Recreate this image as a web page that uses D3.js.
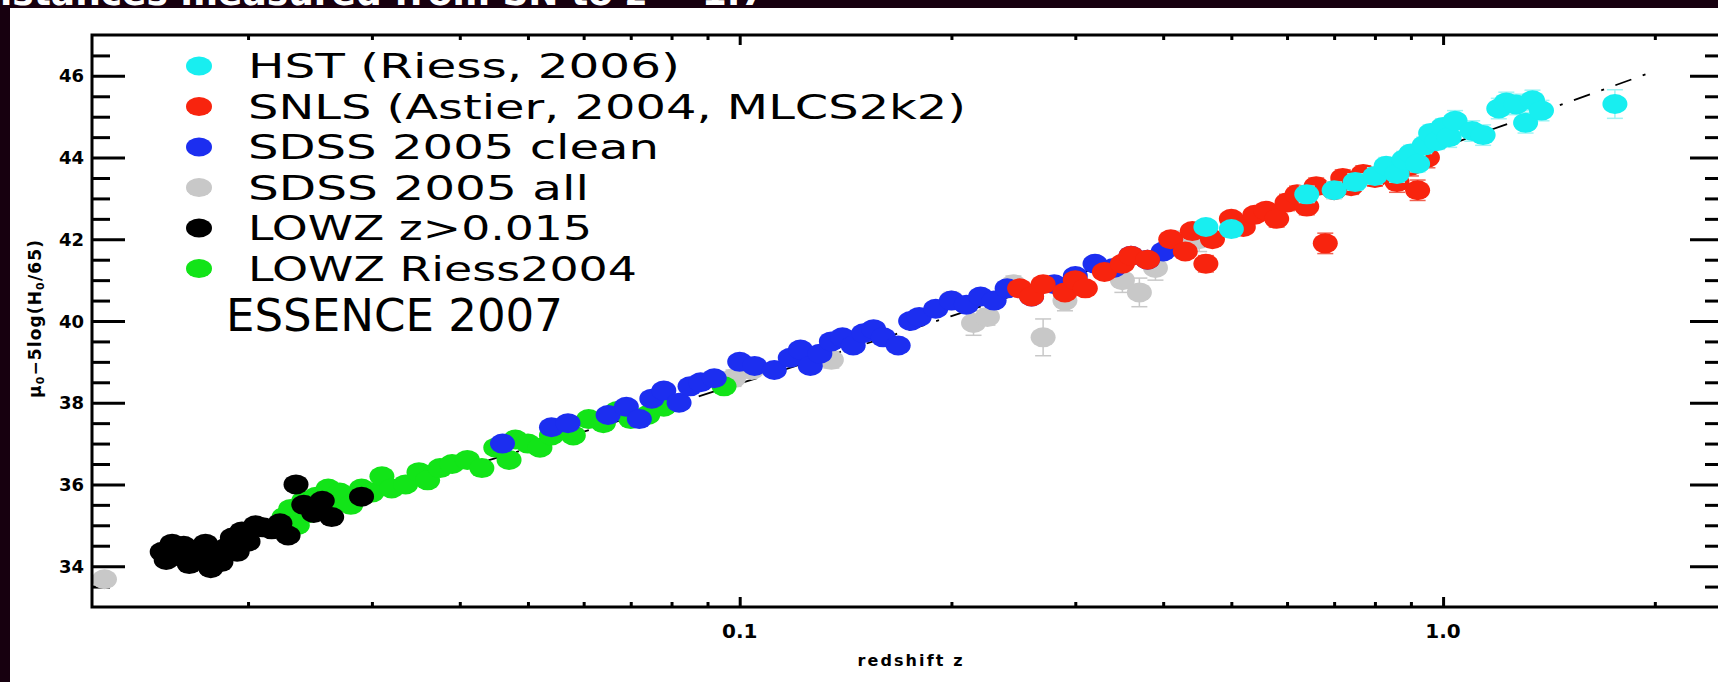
<!DOCTYPE html>
<html>
<head>
<meta charset="utf-8">
<script src="https://cdn.jsdelivr.net/npm/d3@7"></script>
<style>
  body { margin: 0; background: #fff; overflow: hidden; }
  text { font-family: "DejaVu Sans", sans-serif; }
</style>
</head>
<body>
<svg id="chart" width="1718" height="682"></svg>
<script>
// each point: [redshift z, mu - 5log(H0/65), error]
const sdssAll = [
  [0.0125, 33.68, 0.15], [0.098, 38.6, 0.2], [0.104, 38.8, 0.15], [0.135, 39.05, 0.2],
  [0.2, 40.5, 0.2], [0.215, 39.95, 0.3], [0.225, 40.1, 0.2], [0.245, 40.9, 0.2],
  [0.27, 39.6, 0.45], [0.29, 40.5, 0.25], [0.35, 41.0, 0.3], [0.37, 40.7, 0.35],
  [0.39, 41.3, 0.3], [0.42, 41.9, 0.3], [0.45, 42.0, 0.3]
];
const lowzRiess = [
  [0.0225, 35.2, 0], [0.023, 35.4, 0], [0.0235, 35.0, 0], [0.024, 35.6, 0], [0.0245, 35.3, 0],
  [0.025, 35.7, 0], [0.0255, 35.5, 0], [0.026, 35.9, 0], [0.0265, 35.6, 0], [0.027, 35.8, 0],
  [0.028, 35.5, 0], [0.029, 35.9, 0], [0.03, 35.8, 0], [0.031, 36.2, 0], [0.032, 35.9, 0],
  [0.0335, 36.0, 0], [0.035, 36.3, 0], [0.036, 36.1, 0], [0.0375, 36.4, 0], [0.039, 36.5, 0],
  [0.041, 36.6, 0], [0.043, 36.4, 0], [0.045, 36.9, 0.15], [0.047, 36.6, 0], [0.048, 37.1, 0],
  [0.05, 37.0, 0], [0.052, 36.9, 0], [0.054, 37.2, 0], [0.056, 37.4, 0], [0.058, 37.2, 0],
  [0.061, 37.6, 0], [0.064, 37.5, 0], [0.067, 37.8, 0], [0.07, 37.6, 0], [0.074, 37.7, 0],
  [0.078, 37.9, 0], [0.095, 38.4, 0]
];
const lowz = [
  [0.0151, 34.35, 0], [0.0153, 34.15, 0], [0.0156, 34.55, 0], [0.0159, 34.25, 0], [0.0162, 34.5, 0],
  [0.0165, 34.05, 0], [0.0168, 34.4, 0], [0.0171, 34.2, 0], [0.0174, 34.55, 0], [0.0177, 33.95, 0],
  [0.018, 34.3, 0], [0.0183, 34.1, 0], [0.0186, 34.45, 0], [0.019, 34.7, 0], [0.0193, 34.35, 0],
  [0.0196, 34.85, 0], [0.02, 34.6, 0], [0.0205, 35.0, 0], [0.021, 34.95, 0], [0.0216, 34.9, 0],
  [0.0222, 35.05, 0], [0.0228, 34.75, 0], [0.0234, 36.0, 0], [0.024, 35.5, 0], [0.0248, 35.3, 0],
  [0.0255, 35.6, 0], [0.0263, 35.2, 0], [0.029, 35.7, 0]
];
const sdssClean = [
  [0.046, 37.0, 0], [0.054, 37.4, 0], [0.057, 37.5, 0], [0.065, 37.7, 0], [0.069, 37.9, 0],
  [0.072, 37.6, 0], [0.075, 38.1, 0], [0.078, 38.3, 0], [0.082, 38.0, 0], [0.085, 38.4, 0],
  [0.088, 38.5, 0], [0.092, 38.6, 0], [0.1, 39.0, 0], [0.105, 38.9, 0], [0.112, 38.8, 0],
  [0.118, 39.1, 0], [0.122, 39.3, 0], [0.126, 38.9, 0], [0.13, 39.2, 0], [0.135, 39.5, 0],
  [0.14, 39.6, 0], [0.145, 39.4, 0], [0.15, 39.7, 0], [0.155, 39.8, 0], [0.16, 39.6, 0],
  [0.168, 39.4, 0], [0.175, 40.0, 0], [0.18, 40.1, 0], [0.19, 40.3, 0], [0.2, 40.5, 0],
  [0.21, 40.4, 0], [0.22, 40.6, 0], [0.23, 40.5, 0], [0.24, 40.8, 0], [0.26, 40.6, 0],
  [0.28, 40.9, 0], [0.3, 41.1, 0], [0.32, 41.4, 0], [0.34, 41.3, 0], [0.36, 41.6, 0],
  [0.38, 41.5, 0], [0.4, 41.7, 0]
];
const snls = [
  [0.25, 40.8, 0.15], [0.26, 40.6, 0.15], [0.27, 40.9, 0.15], [0.29, 40.7, 0.15], [0.3, 41.0, 0.15],
  [0.31, 40.8, 0.15], [0.33, 41.2, 0.15], [0.35, 41.4, 0.15], [0.36, 41.6, 0.15], [0.38, 41.5, 0.15],
  [0.41, 42.0, 0.15], [0.43, 41.7, 0.15], [0.44, 42.2, 0.15], [0.46, 41.4, 0.2], [0.47, 42.0, 0.15],
  [0.5, 42.5, 0.15], [0.52, 42.3, 0.15], [0.54, 42.6, 0.15], [0.56, 42.7, 0.15], [0.58, 42.5, 0.2],
  [0.6, 42.9, 0.2], [0.62, 43.1, 0.2], [0.64, 42.8, 0.2], [0.66, 43.3, 0.2], [0.68, 41.9, 0.25],
  [0.7, 43.2, 0.2], [0.72, 43.5, 0.2], [0.74, 43.3, 0.2], [0.77, 43.6, 0.2], [0.8, 43.5, 0.2],
  [0.83, 43.7, 0.2], [0.86, 43.4, 0.25], [0.9, 43.8, 0.25], [0.92, 43.2, 0.25], [0.95, 44.0, 0.25]
];
const hst = [
  [0.46, 42.3, 0.15], [0.5, 42.25, 0.15], [0.64, 43.1, 0.2], [0.7, 43.2, 0.2], [0.75, 43.4, 0.2],
  [0.8, 43.55, 0.2], [0.83, 43.8, 0.2], [0.86, 43.6, 0.2], [0.88, 43.95, 0.2], [0.9, 44.1, 0.2],
  [0.92, 43.85, 0.2], [0.94, 44.3, 0.2], [0.96, 44.6, 0.2], [0.98, 44.4, 0.2], [1.0, 44.75, 0.2],
  [1.02, 44.5, 0.25], [1.04, 44.9, 0.25], [1.1, 44.65, 0.25], [1.14, 44.55, 0.25], [1.2, 45.2, 0.25],
  [1.23, 45.35, 0.25], [1.27, 45.3, 0.25], [1.31, 44.85, 0.25], [1.34, 45.4, 0.25], [1.38, 45.15, 0.25],
  [1.755, 45.31, 0.35]
];
// dashed reference curve, read along the visible dashes
const modelCurve = [
  [0.022, 35.08], [0.03, 35.75], [0.05, 36.88], [0.1, 38.47], [0.2, 40.12], [0.3, 41.13],
  [0.5, 42.42], [0.7, 43.29], [1.0, 44.26], [1.4, 45.16], [1.95, 46.05]
];

const legendLabels = ["HST (Riess, 2006)", "SNLS (Astier, 2004, MLCS2k2)", "SDSS 2005 clean",
  "SDSS 2005 all", "LOWZ z>0.015", "LOWZ Riess2004"];
const legendWidths = [432, 718, 411, 341, 344, 389];
const colors = ["#18eef0", "#f8240e", "#1c2ef0", "#c8c8c8", "#000000", "#12e418"];
const barColors = ["#9ff4f4", "#f06050", "#8088f0", "#c8c8c8", "#555555", "#90ee90"];
const majorX = [0.1, 1.0];
const minorX = [0.02, 0.03, 0.04, 0.05, 0.06, 0.07, 0.08, 0.09, 0.2, 0.3, 0.4, 0.5, 0.6, 0.7, 0.8, 0.9, 2.0];
const majorY = [34, 36, 38, 40, 42, 44, 46];
const minorY = d3.range(33.5, 47, 0.5).filter(v => !majorY.includes(v));

const width = 1718, height = 682;
const svg = d3.select("#chart");
const x = d3.scaleLog().domain([0.012, 2.5]).range([92, 1723]);
const y = d3.scaleLinear().domain([33, 47]).range([607, 35]);

// dark slide frame, its title is cut by the top edge
svg.append("rect").attr("width", width).attr("height", height).attr("fill", "#17000f");
svg.append("rect").attr("x", 10).attr("y", 8).attr("width", width).attr("height", height).attr("fill", "#fff");
svg.append("text").attr("x", -30).attr("y", 5).attr("fill", "#fff").attr("font-size", 36)
  .attr("font-family", "Liberation Sans").attr("font-weight", "bold")
  .text("Distances measured from SN to z = 1.7");

// axes: ticks only, the frame is drawn on top
const tickAxis = (axis, scale, vals, size) => svg.append("g")
  .call(axis(scale).tickValues(vals).tickSize(size).tickFormat(""))
  .call(g => g.select(".domain").remove())
  .call(g => g.selectAll("line").attr("stroke", "#000").attr("stroke-width", 3));

tickAxis(d3.axisBottom, x, majorX, -10).attr("transform", "translate(0,607)");
tickAxis(d3.axisBottom, x, minorX, -5).attr("transform", "translate(0,607)");
tickAxis(d3.axisTop, x, majorX, -10).attr("transform", "translate(0,35)");
tickAxis(d3.axisTop, x, minorX, -5).attr("transform", "translate(0,35)");
tickAxis(d3.axisLeft, y, majorY, -33).attr("transform", "translate(92,0)");
tickAxis(d3.axisLeft, y, minorY, -18).attr("transform", "translate(92,0)");
tickAxis(d3.axisRight, y, majorY, -33).attr("transform", "translate(1723,0)");
tickAxis(d3.axisRight, y, minorY, -18).attr("transform", "translate(1723,0)");

svg.append("g").selectAll("text").data(majorX).join("text")
  .attr("x", d => x(d)).attr("y", 638).attr("text-anchor", "middle")
  .attr("font-size", 20).attr("font-weight", "bold").attr("font-family", "DejaVu Sans Condensed")
  .text(d => d3.format(".1f")(d));
svg.append("g").selectAll("text").data(majorY).join("text")
  .attr("x", 84).attr("y", d => y(d) + 6.5).attr("text-anchor", "end")
  .attr("font-size", 18).attr("font-weight", "bold").attr("font-family", "DejaVu Sans Condensed")
  .text(d => d);

svg.append("text").attr("x", 910).attr("y", 666).attr("text-anchor", "middle")
  .attr("font-size", 16).attr("font-weight", "bold").attr("font-family", "DejaVu Sans Condensed")
  .attr("textLength", 105).text("redshift z");
const yt = svg.append("text").attr("transform", "translate(41,319) rotate(-90)")
  .attr("text-anchor", "middle").attr("font-size", 17).attr("font-weight", "bold")
  .attr("font-family", "DejaVu Sans Condensed").attr("textLength", 158);
yt.append("tspan").text("\u03bc");
yt.append("tspan").attr("font-size", 11).attr("dy", 3).text("0");
yt.append("tspan").attr("dy", -3).text("\u22125log(H");
yt.append("tspan").attr("font-size", 11).attr("dy", 3).text("0");
yt.append("tspan").attr("dy", -3).text("/65)");

// reference curve under the points
svg.append("path").datum(modelCurve)
  .attr("d", d3.line().x(d => x(d[0])).y(d => y(d[1])).curve(d3.curveMonotoneX))
  .attr("fill", "none").attr("stroke", "#000").attr("stroke-width", 1.8)
  .attr("stroke-dasharray", "17,12,3,12");

const series = [
  {data: sdssAll, c: 3}, {data: lowzRiess, c: 5}, {data: lowz, c: 4},
  {data: sdssClean, c: 2}, {data: snls, c: 1}, {data: hst, c: 0}
];
series.forEach(s => {
  const eb = svg.append("g").attr("stroke", barColors[s.c]).attr("stroke-width", 1.5);
  s.data.filter(d => d[2] > 0).forEach(d => {
    const cx = x(d[0]), y0 = y(d[1] - d[2]), y1 = y(d[1] + d[2]);
    eb.append("line").attr("x1", cx).attr("x2", cx).attr("y1", y0).attr("y2", y1);
    eb.append("line").attr("x1", cx - 8).attr("x2", cx + 8).attr("y1", y0).attr("y2", y0);
    eb.append("line").attr("x1", cx - 8).attr("x2", cx + 8).attr("y1", y1).attr("y2", y1);
  });
  svg.append("g").selectAll("ellipse").data(s.data).join("ellipse")
    .attr("cx", d => x(d[0])).attr("cy", d => y(d[1]))
    .attr("rx", 12.5).attr("ry", 10).attr("fill", colors[s.c]);
});

// frame
svg.append("rect").attr("x", 92).attr("y", 35).attr("width", 1723 - 92).attr("height", 607 - 35)
  .attr("fill", "none").attr("stroke", "#000").attr("stroke-width", 3);

// legend
const lg = svg.append("g");
legendLabels.forEach((lab, i) => {
  const ly = 66 + i * 40.5;
  lg.append("ellipse").attr("cx", 199).attr("cy", ly).attr("rx", 13).attr("ry", 9.5).attr("fill", colors[i]);
  lg.append("text").attr("x", 248).attr("y", ly + 12).attr("font-size", 33)
    .attr("textLength", legendWidths[i]).attr("lengthAdjust", "spacingAndGlyphs").text(lab);
});
lg.append("text").attr("x", 226).attr("y", 331).attr("font-size", 45)
  .attr("font-family", "Liberation Sans").attr("textLength", 337).attr("lengthAdjust", "spacingAndGlyphs")
  .text("ESSENCE 2007");
</script>
</body>
</html>
